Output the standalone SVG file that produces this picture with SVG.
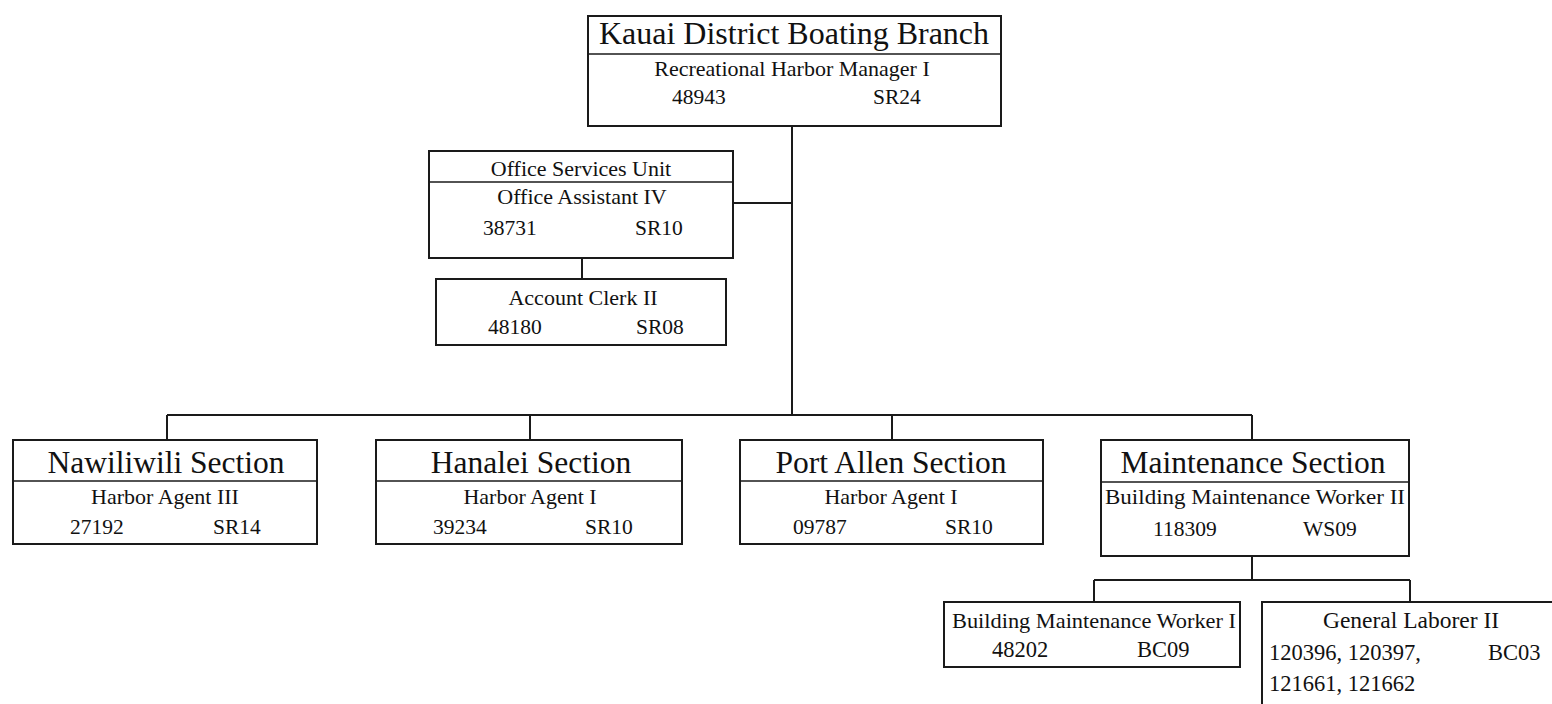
<svg xmlns="http://www.w3.org/2000/svg" width="1552" height="704" viewBox="0 0 1552 704">
<style>
.box{fill:#fff;stroke:#1a1a1a;stroke-width:2}
.div{stroke:#1a1a1a;stroke-width:1.5}
.ln{stroke:#1a1a1a;stroke-width:2;fill:none}
text{font-family:"Liberation Serif","Times New Roman",serif;fill:#111}
.t{font-size:31.5px;text-anchor:middle}
.s{font-size:22px;text-anchor:middle}
.n{font-size:21.5px}
.l{font-size:22.5px}
</style>
<rect width="1552" height="704" fill="#fff"/>
<g id="connectors">
<path class="ln" d="M792 126V415"/>
<path class="ln" d="M733 203H792"/>
<path class="ln" d="M582 258V279"/>
<path class="ln" d="M167 415H1252"/>
<path class="ln" d="M167 415V440M530 415V440M892 415V440M1252 415V440"/>
<path class="ln" d="M1252 556V580M1094 580H1410M1094 580V602M1410 580V602"/>
</g>
<g id="kauai">
<rect class="box" x="588" y="16" width="413" height="110"/>
<line class="div" x1="588" y1="54" x2="1001" y2="54"/>
<text class="t" x="794" y="44" style="font-size:32px">Kauai District Boating Branch</text>
<text class="s" x="792" y="76">Recreational Harbor Manager I</text>
<text class="n" x="672" y="104">48943</text>
<text class="n" x="873" y="104">SR24</text>
</g>
<g id="office">
<rect class="box" x="429" y="151" width="304" height="107"/>
<line class="div" x1="429" y1="182" x2="733" y2="182"/>
<text class="s" x="581" y="176">Office Services Unit</text>
<text class="s" x="582" y="204">Office Assistant IV</text>
<text class="n" x="483" y="235">38731</text>
<text class="n" x="635" y="235">SR10</text>
</g>
<g id="account">
<rect class="box" x="436" y="279" width="290" height="66"/>
<text class="s" x="583" y="305">Account Clerk II</text>
<text class="n" x="488" y="334">48180</text>
<text class="n" x="636" y="334">SR08</text>
</g>
<g id="nawiliwili">
<rect class="box" x="13" y="440" width="304" height="104"/>
<line class="div" x1="13" y1="481" x2="317" y2="481"/>
<text class="t" x="166" y="473">Nawiliwili Section</text>
<text class="s" x="165" y="504">Harbor Agent III</text>
<text class="n" x="70" y="534">27192</text>
<text class="n" x="213" y="534">SR14</text>
</g>
<g id="hanalei">
<rect class="box" x="376" y="440" width="306" height="104"/>
<line class="div" x1="376" y1="481" x2="682" y2="481"/>
<text class="t" x="531" y="473">Hanalei Section</text>
<text class="s" x="530" y="504">Harbor Agent I</text>
<text class="n" x="433" y="534">39234</text>
<text class="n" x="585" y="534">SR10</text>
</g>
<g id="portallen">
<rect class="box" x="740" y="440" width="303" height="104"/>
<line class="div" x1="740" y1="481" x2="1043" y2="481"/>
<text class="t" x="891" y="473">Port Allen Section</text>
<text class="s" x="891" y="504">Harbor Agent I</text>
<text class="n" x="793" y="534">09787</text>
<text class="n" x="945" y="534">SR10</text>
</g>
<g id="maintenance">
<rect class="box" x="1101" y="440" width="308" height="116"/>
<line class="div" x1="1101" y1="482" x2="1409" y2="482"/>
<text class="t" x="1253" y="473">Maintenance Section</text>
<text class="s" x="1255" y="504" textLength="300" lengthAdjust="spacingAndGlyphs">Building Maintenance Worker II</text>
<text class="n" x="1153" y="536">118309</text>
<text class="n" x="1303" y="536">WS09</text>
</g>
<g id="bmw1">
<rect class="box" x="944" y="602" width="296" height="65"/>
<text class="s" x="1094" y="628" textLength="284" lengthAdjust="spacingAndGlyphs">Building Maintenance Worker I</text>
<text class="n l" x="992" y="657">48202</text>
<text class="n l" x="1137" y="657">BC09</text>
</g>
<g id="laborer">
<path class="ln" d="M1262 704V602H1552"/>
<text class="s" x="1411" y="628" style="font-size:23.5px">General Laborer II</text>
<text class="n l" x="1269" y="660">120396, 120397,</text>
<text class="n l" x="1488" y="660">BC03</text>
<text class="n l" x="1269" y="691">121661, 121662</text>
</g>
</svg>
